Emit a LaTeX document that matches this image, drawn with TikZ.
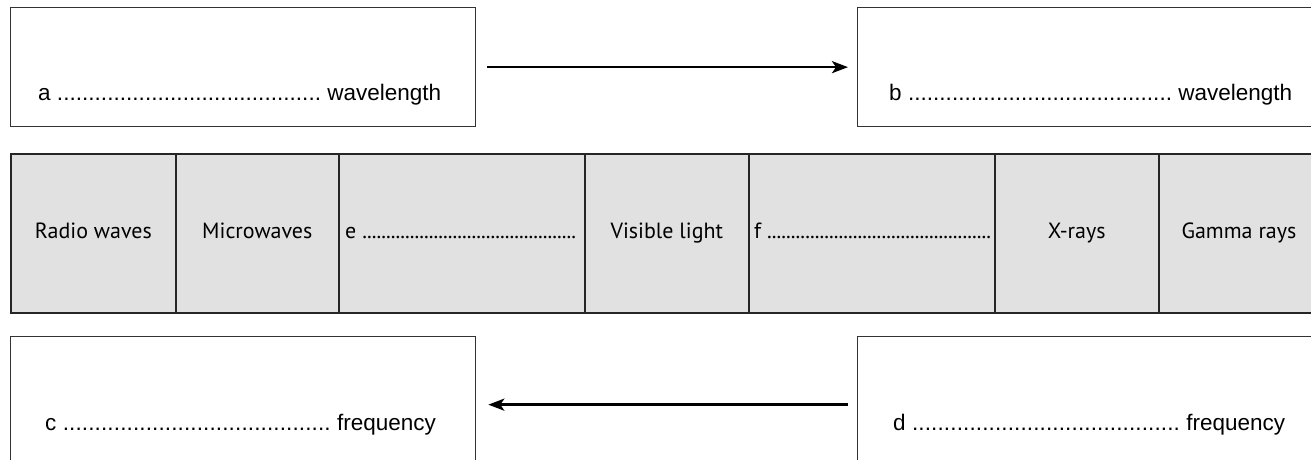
\documentclass[tikz,border=0pt]{standalone}
\usepackage{fontspec}
\setmainfont{Liberation Sans}
\newfontfamily\bandfont{PT Sans}
\usetikzlibrary{arrows.meta}
\newcommand\dotrun[1]{\hbox to #1{\xleaders\hbox{.}\hfill}}
\definecolor{bandgray}{HTML}{E1E1E1}
\definecolor{edgegray}{HTML}{333333}
\tikzset{
  x=1pt, y=-1pt,
  box/.style={draw=edgegray, line width=1.3pt, rectangle, inner sep=0pt, anchor=north west},
  cell/.style={draw=black!85, line width=1.6pt, fill=bandgray, rectangle, inner sep=0pt, anchor=north west, minimum height=159pt},
  boxtext/.style={font=\fontsize{22.5}{26}\selectfont, inner sep=0pt, anchor=base west},
  celltext/.style={font=\bandfont\fontsize{22}{26}\selectfont, inner sep=0pt, anchor=base},
  arr/.style={line width=2.6pt, -{Stealth[length=16pt, width=12pt, inset=4pt]}}
}
\begin{document}
\begin{tikzpicture}
\path[use as bounding box, clip] (0,0) rectangle (1311,459);
% top boxes
\node[box, minimum width=465pt, minimum height=119pt] (a) at (10,7) {};
\node[box, minimum width=468pt, minimum height=119pt] (b) at (857,7) {};
\node[boxtext] (ta) at (38,100) {a \dotrun{264pt} wavelength};
\node[boxtext] (tb) at (889,100) {b \dotrun{264pt} wavelength};
\draw[arr, shorten <=11pt, shorten >=9pt] (a.east) -- (b.west);
% band
\node[cell, minimum width=165pt] (r) at (10,153) {};
\node[cell, minimum width=163pt] (m) at (175,153) {};
\node[cell, minimum width=246pt] (e) at (338,153) {};
\node[cell, minimum width=164pt] (v) at (584,153) {};
\node[cell, minimum width=246pt] (f) at (748,153) {};
\node[cell, minimum width=164pt] (x) at (994,153) {};
\node[cell, minimum width=170pt] (g) at (1158,153) {};
\node[celltext] (tr) at (r.center |- 0,238) {Radio waves};
\node[celltext] (tm) at (m.center |- 0,238) {Microwaves};
\node[celltext, anchor=base west] (te) at (345,238) {e \dotrun{214pt}};
\node[celltext] (tv) at (v.center |- 0,238) {Visible light};
\node[celltext, anchor=base west] (tf) at (754,238) {f \dotrun{224pt}};
\node[celltext] (tx) at (x.center |- 0,238) {X-rays};
\node[celltext] (tg) at (1239,238) {Gamma rays};
% bottom boxes
\node[box, minimum width=465pt, minimum height=136pt] (c) at (10,336) {};
\node[box, minimum width=468pt, minimum height=136pt] (d) at (857,336) {};
\node[boxtext] (tc) at (45,430) {c \dotrun{268pt} frequency};
\node[boxtext] (td) at (893,430) {d \dotrun{268pt} frequency};
\draw[arr, shorten <=9pt, shorten >=12pt] (d.west) -- (c.east);
\end{tikzpicture}
\end{document}
